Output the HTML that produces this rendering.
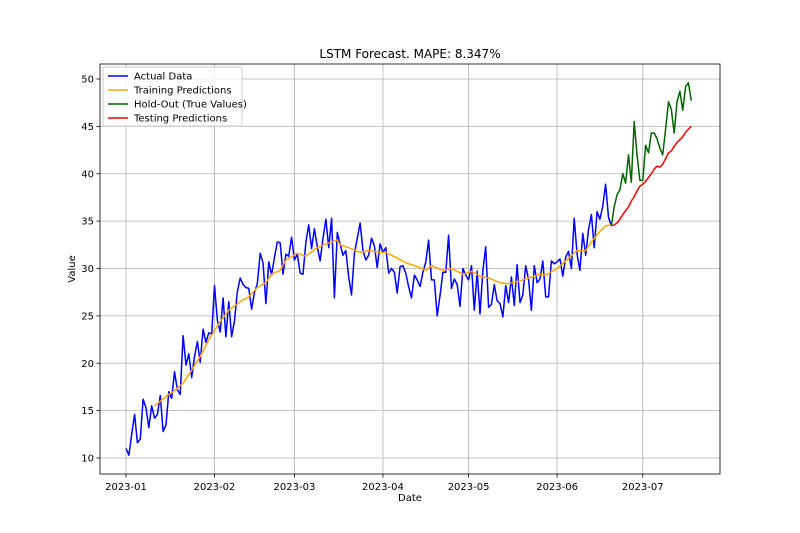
<!DOCTYPE html>
<html><head><meta charset="utf-8"><style>
body{margin:0;background:#fff}
svg{display:block;font-family:"DejaVu Sans","Liberation Sans",sans-serif}
</style></head><body>
<svg id="chart" width="800" height="533"></svg>
<script>
const xTickLabels=["2023-01","2023-02","2023-03","2023-04","2023-05","2023-06","2023-07"];
const xTickDays=[0,31,59,90,120,151,181];
const yTicks=[10,15,20,25,30,35,40,45,50];
const actualValues=[11,10.3,12.5,14.6,11.6,12,16.2,15.3,13.2,15.5,14.2,14.6,16.6,12.8,13.5,17,16.3,19.1,17.2,16.7,22.9,19.8,21,18.5,20.7,22.3,20.1,23.6,22.2,23.2,23.1,
28.2,24.5,23.3,26.9,22.8,26.5,22.8,24.5,27.5,29,28.3,28,27.9,25.7,27.5,28.4,31.6,30.6,26.3,30.7,29.3,31.2,32.8,32.7,29.4,31.5,31.3,33.3,
30.9,31.5,29.5,29.4,32.8,34.6,32.1,34.2,32.3,30.8,33.2,35.2,32.2,35.3,26.9,33.8,32.6,31.4,31.9,29.1,27.2,31.6,33.2,34.8,31.9,30.9,31.4,33.2,32.4,30.1,32.6,
31.7,32.2,29.5,30,29.6,27.4,30.2,30.3,29.5,28.1,26.9,29.3,28.8,28.1,29.6,30.7,33,28.8,28.8,25,27.2,29.6,29.6,33.5,27.9,28.9,28.3,26,30,29.3,
28.8,30.3,25.6,29.7,25.2,29.8,32.3,25.9,26.2,28.3,26.6,26.3,24.9,28.2,26.4,29.1,26.1,30.4,26.4,27.2,30.3,28.8,25.6,30.3,28.5,28.9,30.8,27,27,30.8,30.5,
30.7,31,29.2,31.2,31.8,30,35.3,31.5,29.8,33.7,31.4,34.1,35.7,32.2,36,35.2,36.6,38.9,35.4,34.5];
const trainDays=[10,14,17,20,22,26,29,33,36,40,43,46,49,51,54,56,60,63,67,70,74,75,78,82,85,89,91,95,98,102,105,107,111,114,118,121,124,127,131,134,138,141,145,147,151,154,158,161,163,166,168,170];
const trainValues=[15.5,16.5,17.1,17.9,18.8,20.7,22.5,24.4,25.6,26.5,27,28,28.5,29.4,29.8,30.9,31.6,31.3,32.2,32.6,33,32.5,32.2,31.7,31.9,31.7,31.7,31.1,30.6,30.2,29.8,30.3,29.8,30,29.4,29.7,29.2,29,28.5,28.4,28.7,29,29.4,29.3,30,30.8,31.9,31.9,32.8,33.9,34.5,34.6];
const holdStartDay=170;
const holdValues=[34.5,36.5,37.8,38.3,40,39,42,39.1,45.5,42,39.3,39.3,43,42.2,44.3,44.3,43.7,42.7,42,44.7,47.6,46.8,44.3,47.6,48.7,46.7,49.2,49.6,47.7];
const testValues=[34.5,34.6,34.8,35.2,35.7,36.1,36.5,37.1,37.6,38.2,38.7,38.9,39.2,39.6,40.0,40.5,40.8,40.7,41,41.6,42.2,42.4,42.9,43.3,43.6,43.9,44.4,44.7,45.0];

const L=100,R=720,T=64,B=474;
const xs=d=>126+d*2.855;
const ys=v=>458-(v-10)*9.475;
const svg=document.getElementById('chart');
const NS='http://www.w3.org/2000/svg';
function mk(tag,attrs,parent){const e=document.createElementNS(NS,tag);for(const k in attrs)e.setAttribute(k,attrs[k]);(parent||svg).appendChild(e);return e;}

mk('rect',{x:L,y:T,width:R-L,height:B-T,fill:'#fff'});
// grid + ticks
xTickDays.forEach((d,i)=>{const x=xs(d);
 const g=mk('line',{x1:x,x2:x,y1:T,y2:B,stroke:'#b0b0b0','stroke-width':0.8});
 
 
 mk('line',{x1:x,x2:x,y1:B,y2:B+3.5,stroke:'#000','stroke-width':0.8});
 const t=mk('text',{x:x,y:B+16,'font-size':10,'text-anchor':'middle'});t.textContent=xTickLabels[i];
 
 
});
yTicks.forEach(v=>{const y=ys(v);
 const g=mk('line',{x1:L,x2:R,y1:y,y2:y,stroke:'#b0b0b0','stroke-width':0.8});
 
 
 mk('line',{x1:L-3.5,x2:L,y1:y,y2:y,stroke:'#000','stroke-width':0.8});
 const t=mk('text',{x:L-6,y:y+3.5,'font-size':10,'text-anchor':'end'});t.textContent=v;
 
 
});
function line(pts,color,name){const p=mk('polyline',{points:pts.map(q=>q[0].toFixed(1)+','+q[1].toFixed(1)).join(' '),fill:'none',stroke:color,'stroke-width':1.5,'stroke-linejoin':'round'});
 
 }
line(actualValues.map((v,i)=>[xs(i),ys(v)]),'#0000ff','actual-data-line');
line(trainValues.map((v,i)=>[xs(trainDays[i]),ys(v)]),'#ffa500','training-predictions-line');
line(holdValues.map((v,i)=>[xs(holdStartDay+i),ys(v)]),'#006400','hold-out-line');
line(testValues.map((v,i)=>[xs(holdStartDay+i),ys(v)]),'#ff0000','testing-predictions-line');
mk('rect',{x:L,y:T,width:R-L,height:B-T,fill:'none',stroke:'#000','stroke-width':0.8});
</script>
<svg width="800" height="533" style="position:absolute;left:0;top:0">
<text x="410" y="58" font-size="12" text-anchor="middle">LSTM Forecast. MAPE: 8.347%</text>
<text x="410" y="501" font-size="10" text-anchor="middle">Date</text>
<text x="75" y="269" font-size="10" text-anchor="middle" transform="rotate(-90 75 269)">Value</text>
<g>
<rect x="103" y="67" width="139" height="59" rx="2" fill="#fff" fill-opacity="0.8" stroke="#ccc"/>
<line x1="108" x2="128" y1="76" y2="76" stroke="#0000ff" stroke-width="1.5"/>
<text x="134" y="79.5" font-size="10">Actual Data</text>
<line x1="108" x2="128" y1="90" y2="90" stroke="#ffa500" stroke-width="1.5"/>
<text x="134" y="93.5" font-size="10">Training Predictions</text>
<line x1="108" x2="128" y1="104" y2="104" stroke="#006400" stroke-width="1.5"/>
<text x="134" y="107.5" font-size="10">Hold-Out (True Values)</text>
<line x1="108" x2="128" y1="118" y2="118" stroke="#ff0000" stroke-width="1.5"/>
<text x="134" y="121.5" font-size="10">Testing Predictions</text>
</g>
</svg>
</body></html>
